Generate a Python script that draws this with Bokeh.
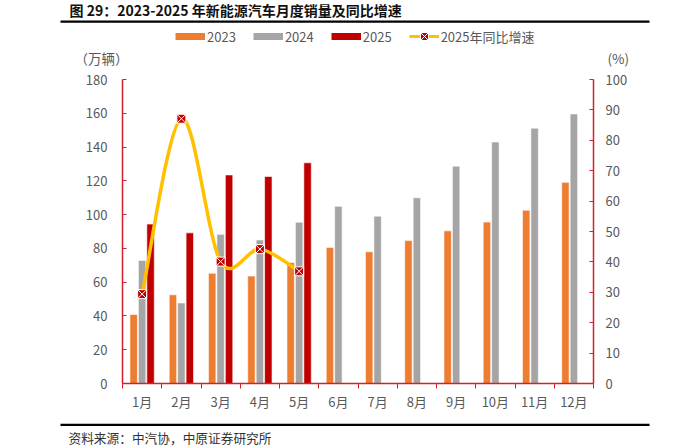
import numpy as np
from bokeh.plotting import figure
from bokeh.models import (Range1d, LinearAxis, FixedTicker, ColumnDataSource, Label,
                          Legend, LegendItem, BoxAnnotation)
from bokeh.transform import dodge
from bokeh.embed import file_html
from bokeh.resources import INLINE

# ---- data ----
months = ["1月", "2月", "3月", "4月", "5月", "6月", "7月", "8月", "9月", "10月", "11月", "12月"]
sales_2023 = [40.8, 52.5, 65.3, 63.6, 71.7, 80.6, 78.0, 84.6, 90.4, 95.6, 102.6, 119.1]
sales_2024 = [72.9, 47.7, 88.3, 85.0, 95.5, 104.9, 99.1, 110.0, 128.7, 143.0, 151.2, 159.6]
sales_2025 = [94.4, 89.2, 123.5, 122.6, 130.7]
yoy_2025 = [29.4, 87.1, 40.1, 44.2, 36.9]
left_ticks = [0, 20, 40, 60, 80, 100, 120, 140, 160, 180]
right_ticks = [0, 10, 20, 30, 40, 50, 60, 70, 80, 90, 100]

C23, C24, C25 = "#ED7D31", "#A5A5A5", "#C00000"
CLINE = "#FFC000"
AX = "#D4202A"
TXT = "#595959"
FONT = "Noto Sans CJK SC"

W, H = 700, 448
# plot area inside the canvas (pixels from top-left)
PL, PR, PT, PB = 122, 593, 79, 383
NX = len(months)
YMAX, PMAX = 180, 100

kx = (PR - PL) / NX
ky = (PB - PT) / YMAX
kp = (PB - PT) / PMAX

xc = [i + 0.5 for i in range(NX)]
src = ColumnDataSource(dict(x=xc, y23=sales_2023, y24=sales_2024))
src25 = ColumnDataSource(dict(x=xc[:len(sales_2025)], y25=sales_2025, g=yoy_2025))

p = figure(width=W, height=H, output_backend="svg", toolbar_location=None,
           x_range=Range1d(-PL / kx, NX + (W - PR) / kx),
           y_range=Range1d(-(H - PB) / ky, YMAX + PT / ky),
           min_border=0, min_border_left=0, min_border_right=0,
           min_border_top=0, min_border_bottom=0,
           x_axis_type=None, y_axis_type=None)
p.title.visible = False
p.extra_y_ranges = {"pct": Range1d(-(H - PB) / kp, PMAX + PT / kp)}
p.outline_line_color = None
p.xgrid.visible = False
p.ygrid.visible = False
p.background_fill_color = "white"
p.border_fill_color = "white"

bw = 0.19
off = 0.215
p.vbar(x=dodge("x", -off), top="y23", width=bw, source=src, fill_color=C23, line_color="white", line_width=0.6)
p.vbar(x="x", top="y24", width=bw, source=src, fill_color=C24, line_color="white", line_width=0.6)
p.vbar(x=dodge("x", off), top="y25", width=bw, source=src25, fill_color=C25, line_color="white", line_width=0.6)

# smoothed line (Catmull-Rom style Bezier through the data points, like Excel smoothing)
px = np.array(xc[:len(yoy_2025)])
py = np.array(yoy_2025, dtype=float)
n = len(px)
x0s, y0s, x1s, y1s, cx0, cy0, cx1, cy1 = [], [], [], [], [], [], [], []
for i in range(n - 1):
    im1 = max(i - 1, 0)
    ip2 = min(i + 2, n - 1)
    x0s.append(px[i]); y0s.append(py[i])
    x1s.append(px[i + 1]); y1s.append(py[i + 1])
    cx0.append(px[i] + (px[i + 1] - px[im1]) / 6.0)
    cy0.append(py[i] + (py[i + 1] - py[im1]) / 6.0)
    cx1.append(px[i + 1] - (px[ip2] - px[i]) / 6.0)
    cy1.append(py[i + 1] - (py[ip2] - py[i]) / 6.0)
p.bezier(x0=x0s, y0=y0s, x1=x1s, y1=y1s, cx0=cx0, cy0=cy0, cx1=cx1, cy1=cy1,
         line_color=CLINE, line_width=3.5, y_range_name="pct")
mk = p.scatter(x="x", y="g", source=src25, marker="square_x", size=9, fill_color=C25,
               line_color="white", line_width=1, y_range_name="pct")

# legend proxies (hidden renderers, only drawn in the legend)
l23 = p.line(x="x", y="y23", source=src, line_color=C23, line_width=7, visible=False)
l24 = p.line(x="x", y="y24", source=src, line_color=C24, line_width=7, visible=False)
l25 = p.line(x="x", y="y25", source=src25, line_color=C25, line_width=7, visible=False)
lg = p.line(x="x", y="g", source=src25, line_color=CLINE, line_width=3, visible=False,
            y_range_name="pct")
legend = Legend(items=[LegendItem(label="2023", renderers=[l23]),
                       LegendItem(label="2024", renderers=[l24]),
                       LegendItem(label="2025", renderers=[l25]),
                       LegendItem(label="2025年同比增速", renderers=[lg, mk])],
                orientation="horizontal", location=(175, H - 46), padding=0, margin=0,
                spacing=17, label_standoff=2, glyph_width=30, glyph_height=20,
                border_line_color=None, background_fill_alpha=0, click_policy="none",
                label_text_font=FONT, label_text_font_size="13px", label_text_color=TXT)
p.add_layout(legend)

# axes (fixed at the plot-area edges)
xax = LinearAxis(ticker=FixedTicker(ticks=xc, minor_ticks=list(range(NX + 1))),
                 major_label_overrides={x: m for x, m in zip(xc, months)},
                 fixed_location=0, bounds=(0, NX))
xax.major_tick_line_color = None
xax.major_tick_out = 5
xax.minor_tick_line_color = AX
xax.minor_tick_in = 0
xax.minor_tick_out = 5
xax.axis_line_color = AX
xax.axis_line_width = 1.5
xax.major_label_text_font = FONT
xax.major_label_text_font_size = "13px"
xax.major_label_text_color = TXT
xax.major_label_standoff = 3
p.add_layout(xax, "below")

yl = LinearAxis(ticker=FixedTicker(ticks=left_ticks), fixed_location=0, bounds=(0, YMAX))
yr = LinearAxis(ticker=FixedTicker(ticks=right_ticks), y_range_name="pct",
                fixed_location=NX, bounds=(0, PMAX))
for ax, st in ((yl, 15), (yr, 12)):
    ax.axis_line_color = AX
    ax.axis_line_width = 1.5
    ax.major_tick_line_color = AX
    ax.major_tick_in = 4
    ax.major_tick_out = 0
    ax.minor_tick_line_color = None
    ax.major_label_text_font = FONT
    ax.major_label_text_font_size = "13px"
    ax.major_label_text_color = TXT
    ax.major_label_standoff = st
p.add_layout(yl, "left")
p.add_layout(yr, "right")

# texts (screen units: x from left, y from bottom of the canvas)
def lab(text, x, y, size, color, bold=False, align="left"):
    p.add_layout(Label(x=x, y=H - y, x_units="screen", y_units="screen", text=text,
                       text_font=FONT, text_font_size=size, text_color=color,
                       text_font_style="bold" if bold else "normal",
                       text_baseline="middle", text_align=align))

lab("图 29：2023-2025 年新能源汽车月度销量及同比增速", 69, 9.5, "14px", "#111111", bold=True)
lab("（万辆）", 74, 57, "13.5px", TXT)
lab("(%)", 607, 57, "13.5px", TXT)
lab("资料来源：中汽协，中原证券研究所", 68, 437, "12.7px", "#333333")

for top in (20, 423.3):
    p.add_layout(BoxAnnotation(left=60, right=649, top=H - top, bottom=H - top - 2.2,
                               left_units="screen", right_units="screen",
                               top_units="screen", bottom_units="screen",
                               fill_color="black", fill_alpha=1, line_color=None))

open("out.html", "w").write(file_html(p, INLINE))
